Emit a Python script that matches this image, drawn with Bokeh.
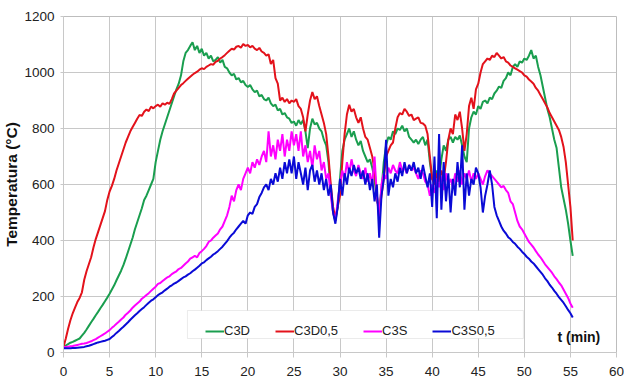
import numpy as np
from bokeh.plotting import figure
from bokeh.models import Range1d, FixedTicker, Legend, LegendItem, Label, BoxAnnotation
from bokeh.embed import file_html
from bokeh.resources import INLINE

# sampling grid: every 0.25 min from 0 to 55.25 min
t_min = np.arange(222) * 0.25

x_ticks = [0, 5, 10, 15, 20, 25, 30, 35, 40, 45, 50, 55, 60]
y_ticks = [0, 200, 400, 600, 800, 1000, 1200]

series_names = ["C3D", "C3D0,5", "C3S", "C3S0,5"]

c3d = [
    20, 25, 30, 35, 38, 42, 46, 50, 60, 70, 82, 95, 108, 120, 133, 145, 158, 170, 183, 196,
    210, 225, 240, 258, 275, 292, 312, 335, 360, 385, 410, 440, 465, 490, 515, 545, 560, 580, 600, 620,
    680, 720, 760, 790, 815, 840, 865, 890, 915, 940, 960, 990, 1040, 1070, 1080, 1095, 1108, 1080, 1095, 1070,
    1085, 1060, 1070, 1050, 1060, 1040, 1045, 1055, 1035, 1045, 1020, 1015, 1000, 990, 995, 975, 980, 965, 970, 955,
    948, 955, 940, 930, 935, 915, 920, 905, 900, 910, 890, 880, 885, 865, 870, 850, 855, 840, 835, 820,
    825, 810, 830, 815, 830, 790, 730, 800, 835, 815, 820, 800, 790, 760, 740, 680, 580, 500, 470, 520,
    620, 720, 760, 780, 800, 770, 790, 760, 740, 755, 720, 700, 680, 690, 660, 620, 540, 520, 580, 680,
    740, 770, 760, 790, 780, 800, 795, 810, 790, 800, 770, 760, 750, 760, 745, 760, 770, 740, 760, 680,
    620, 610, 650, 620, 690, 740, 720, 760, 770, 750, 770, 760, 775, 740, 700, 680, 800, 840, 860, 850,
    880, 870, 895, 900, 890, 910, 905, 925, 935, 950, 945, 970, 980, 1000, 990, 1020, 1030, 1020, 1040, 1035,
    1050, 1045, 1060, 1080, 1050, 1060, 1020, 990, 950, 910, 870, 840, 800, 760, 730, 660, 590, 550, 510, 460,
    400, 345,
]

c3d05 = [
    20, 50, 85, 115, 140, 160, 180, 195, 215, 260, 290, 315, 340, 375, 405, 430, 455, 480, 505, 545,
    575, 595, 620, 650, 675, 700, 725, 750, 770, 790, 805, 820, 835, 848, 845, 860, 868, 862, 878, 872,
    880, 885, 878, 890, 885, 892, 888, 905, 925, 935, 945, 955, 962, 970, 978, 985, 992, 998, 1003, 1010,
    1015, 1012, 1020, 1025, 1030, 1028, 1038, 1042, 1050, 1055, 1062, 1070, 1078, 1085, 1082, 1092, 1095, 1088, 1102, 1095,
    1098, 1090, 1095, 1085, 1080, 1088, 1075, 1070, 1060, 1065, 1030, 1045, 980, 960, 900, 910, 895, 905, 890, 900,
    895, 905, 880, 870, 840, 790, 850, 900, 930, 905, 915, 880, 850, 820, 780, 700, 600, 520, 480, 520,
    560, 680, 780, 850, 885, 860, 870, 840, 820, 840, 800, 770, 760, 730, 700, 650, 560, 500, 560, 620,
    700, 720, 740, 750, 800, 840, 855, 850, 870, 860, 845, 850, 830, 835, 840, 820, 818, 810, 780, 700,
    620, 600, 640, 610, 650, 620, 680, 760, 800, 780, 850, 830, 860, 800, 720, 780, 880, 910, 870, 940,
    960, 1000, 1030, 1040, 1050, 1045, 1060, 1055, 1070, 1060, 1050, 1055, 1040, 1035, 1025, 1020, 1015, 1010, 1005, 1000,
    990, 985, 975, 968, 960, 945, 935, 920, 905, 890, 875, 855, 840, 825, 810, 795, 770, 735, 680, 600,
    520, 400,
]

c3s = [
    20, 20, 21, 22, 23, 25, 27, 29, 31, 32, 34, 37, 40, 44, 48, 53, 58, 63, 68, 74,
    80, 88, 95, 103, 110, 118, 125, 135, 142, 150, 160, 168, 175, 182, 192, 198, 205, 212, 220, 228,
    235, 245, 248, 255, 262, 268, 272, 280, 285, 290, 298, 302, 310, 318, 325, 335, 340, 345, 340, 355,
    362, 370, 380, 395, 400, 410, 418, 425, 440, 450, 470, 490, 520, 560, 540, 580, 600, 580, 620, 640,
    660, 640, 680, 660, 690, 670, 700, 720, 680, 790, 700, 740, 690, 760, 720, 780, 700, 760, 720, 790,
    740, 780, 720, 790, 700, 740, 680, 720, 660, 740, 690, 720, 650, 680, 620, 640, 560, 500, 470, 540,
    600, 650, 620, 680, 640, 690, 650, 630, 670, 640, 620, 660, 610, 640, 600, 700, 560, 480, 600, 640,
    620, 660, 640, 670, 650, 640, 680, 650, 660, 640, 670, 650, 660, 640, 620, 650, 640, 610, 600, 560,
    600, 570, 620, 590, 630, 580, 640, 600, 620, 590, 640, 610, 650, 600, 640, 620, 650, 610, 640, 620,
    640, 620, 600, 630, 650, 640, 630, 620, 610, 600, 590, 595, 580, 570, 540, 530, 500, 470, 450, 440,
    425, 410, 395, 385, 375, 362, 350, 340, 328, 315, 305, 295, 285, 272, 262, 250, 240, 225, 210, 195,
    175, 160,
]

c3s05 = [
    15, 15, 15, 15, 16, 16, 17, 18, 19, 20, 22, 24, 27, 30, 33, 36, 38, 40, 42, 45,
    48, 55, 62, 70, 77, 85, 92, 100, 108, 117, 125, 133, 140, 148, 155, 162, 170, 178, 185, 190,
    197, 205, 210, 215, 222, 228, 235, 240, 246, 250, 256, 262, 268, 272, 278, 283, 290, 296, 303, 310,
    318, 322, 330, 336, 342, 350, 355, 362, 370, 378, 388, 398, 410, 420, 428, 440, 450, 460, 470, 460,
    490, 500, 495, 520, 530, 555, 570, 590, 600, 580, 620, 600, 640, 610, 660, 620, 680, 640, 690, 640,
    700, 620, 680, 640, 600, 660, 580, 650, 670, 610, 650, 600, 640, 580, 620, 560, 600, 500, 460, 520,
    620, 560, 640, 600, 660, 630, 670, 640, 660, 620, 650, 600, 640, 580, 620, 540, 600, 410, 560, 620,
    760, 560, 620, 590, 640, 610, 660, 630, 680, 640, 670, 650, 680, 640, 660, 620, 670, 630, 590, 640,
    520, 700, 480, 780, 510, 680, 540, 640, 500, 620, 560, 680, 590, 740, 510, 640, 560, 620, 600, 660,
    640, 590, 500, 560, 600, 650, 600, 520, 490, 470, 450, 435, 425, 412, 405, 395, 388, 378, 370, 360,
    352, 342, 335, 325, 318, 308, 298, 288, 278, 265, 255, 242, 232, 220, 210, 198, 188, 178, 165, 152,
    140, 125,
]

colors = ["#1a9e4f", "#e3121b", "#ff00ff", "#0a0ad6"]
all_series = [c3d, c3d05, c3s, c3s05]

p = figure(width=624, height=388, output_backend="svg", toolbar_location=None,
           x_range=Range1d(0, 60), y_range=Range1d(0, 1200),
           min_border_left=63, min_border_right=8, min_border_top=16, min_border_bottom=36)

renderers = []
for ys, col in zip(all_series, colors):
    n = len(ys)
    r = p.line(t_min[:n], ys, line_color=col, line_width=2)
    renderers.append(r)

font = "Liberation Sans"
grid_col = "#c8c8c8"
p.outline_line_color = "#bdbdbd"
p.background_fill_color = "white"
p.border_fill_color = "white"

p.xaxis.ticker = FixedTicker(ticks=x_ticks)
p.yaxis.ticker = FixedTicker(ticks=y_ticks)
for ax in (p.xaxis[0], p.yaxis[0]):
    ax.axis_line_color = grid_col
    ax.major_tick_line_color = grid_col
    ax.major_tick_in = 0
    ax.minor_tick_line_color = None
    ax.major_label_text_font = font
    ax.major_label_text_font_size = "13.5px"
    ax.major_label_text_color = "#222222"
p.xaxis.major_tick_out = 5
p.yaxis.major_tick_out = 3
p.xaxis.major_label_standoff = 9
p.yaxis.major_label_standoff = 6
p.yaxis.axis_label = "Temperatura (°C)"
p.yaxis.axis_label_text_font = font
p.yaxis.axis_label_text_font_style = "bold"
p.yaxis.axis_label_text_font_size = "15.5px"
p.yaxis.axis_label_text_color = "#111111"
p.yaxis.axis_label_standoff = 1

p.xgrid.grid_line_color = grid_col
p.ygrid.grid_line_color = grid_col

p.add_layout(Label(x=53.6, y=27, text="t (min)", text_font=font, text_font_style="bold",
                   text_font_size="14px", text_color="#111111"))

# legend frame (white box hiding the grid), then the legend entries inside it
p.add_layout(BoxAnnotation(left=13.45, right=49.9, bottom=50, top=150,
                           fill_color="white", fill_alpha=1,
                           line_color="#bdbdbd", line_width=1))

legend = Legend(items=[LegendItem(label=nm, renderers=[r]) for nm, r in zip(series_names, renderers)],
                orientation="horizontal", location=(142, 14))
legend.label_text_font = font
legend.label_text_font_size = "13px"
legend.label_text_color = "#222222"
legend.glyph_width = 19
legend.glyph_height = 14
legend.label_standoff = 0
legend.spacing = 25
legend.padding = 7
legend.margin = 0
legend.border_line_color = None
legend.background_fill_alpha = 0
legend.label_height = 14
p.add_layout(legend, "center")

open("out.html", "w").write(file_html(p, INLINE))
